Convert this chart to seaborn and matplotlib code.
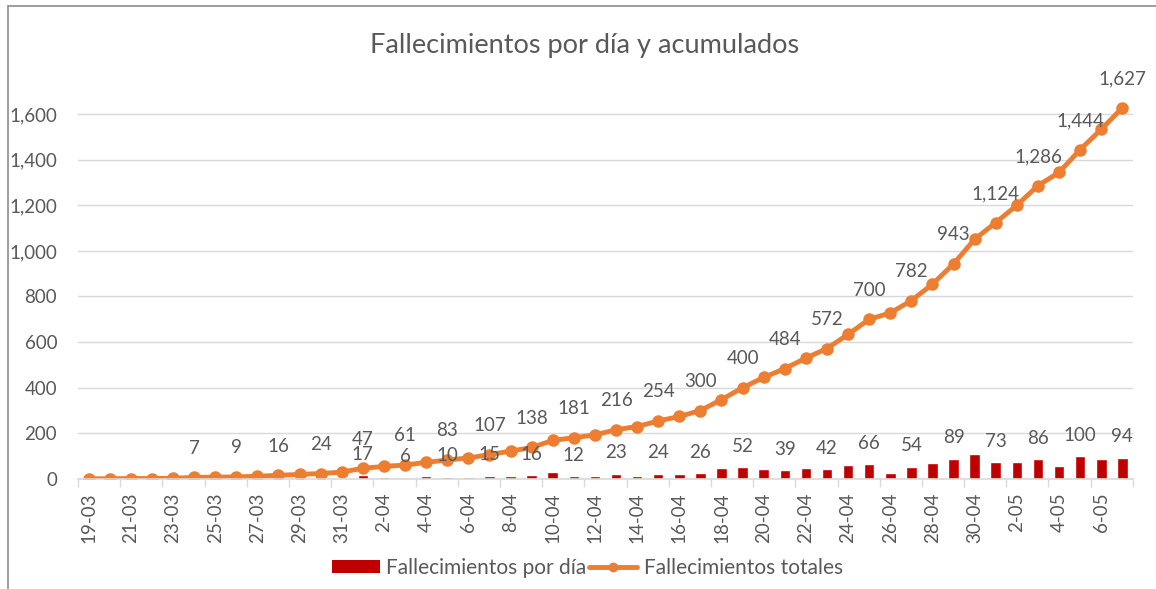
import matplotlib
matplotlib.use('Agg')
import matplotlib.pyplot as plt
from matplotlib.patches import Patch
from matplotlib.lines import Line2D
import seaborn as sns
import numpy as np
import pandas as pd

# data (19-03 .. 7-05)
fechas = [f'{d.day}-{d.month:02d}' for d in pd.date_range('2020-03-19', '2020-05-07')]
por_dia = [1, 0, 1, 0, 1, 4, 1, 1, 3, 4, 4, 4, 6, 17, 8, 6, 12, 10, 9, 15,
           15, 16, 31, 12, 12, 23, 14, 24, 20, 26, 48, 52, 45, 39, 46, 42, 62, 66, 28, 54,
           72, 89, 108, 73, 76, 86, 58, 100, 89, 94]
totales = [1, 1, 2, 2, 3, 7, 8, 9, 12, 16, 20, 24, 30, 47, 55, 61, 73, 83, 92, 107,
           122, 138, 169, 181, 193, 216, 230, 254, 274, 300, 348, 400, 445, 484, 530, 572, 634, 700, 728, 782,
           854, 943, 1051, 1124, 1200, 1286, 1344, 1444, 1533, 1627]
y_ticks = [0, 200, 400, 600, 800, 1000, 1200, 1400, 1600]

ROJO = '#C00000'
NARANJA = '#ED7D31'
GRIS = '#595959'

df = pd.DataFrame({'fecha': fechas, 'dia': por_dia, 'total': totales})
df['pos'] = np.arange(len(df))

sns.set_theme(style='white')
plt.rcParams['font.family'] = ['Lato', 'DejaVu Sans']

fig = plt.figure(figsize=(11.56, 5.89), dpi=100)
ax = fig.add_axes([0.0675, 0.1868, 0.9125, 0.6777])

sns.barplot(data=df, x='pos', y='dia', color=ROJO, width=0.5, saturation=1, ax=ax, native_scale=True)
sns.lineplot(data=df, x='pos', y='total', color=NARANJA, lw=3.5, marker='o', markersize=9,
             markeredgewidth=0, ax=ax)

ax.set_xlim(-0.5, len(df) - 0.5)
ax.set_ylim(0, 1750)
ax.set_yticks(y_ticks)
ax.set_yticklabels([f'{v:,}' for v in y_ticks])
ax.yaxis.grid(True, color='#D9D9D9', lw=1)
ax.set_axisbelow(True)

ax.set_xticks(df['pos'][::2])
ax.set_xticklabels(df['fecha'][::2], rotation=90)
ax.set_xticks(np.arange(-0.5, len(df), 2), minor=True)
ax.tick_params(axis='x', which='major', length=0, pad=10, labelsize=13.5, labelcolor=GRIS)
ax.tick_params(axis='x', which='minor', length=6, width=1, color='#D9D9D9', bottom=True)
ax.tick_params(axis='y', length=0, pad=15, labelsize=13.5, labelcolor=GRIS)
ax.set_xlabel('')
ax.set_ylabel('')

for s in ['top', 'right', 'left']:
    ax.spines[s].set_visible(False)
ax.spines['bottom'].set_color('#D9D9D9')
ax.spines['bottom'].set_linewidth(1.2)

# data labels on every other point
for i in range(5, len(df), 2):
    ax.annotate(f'{totales[i]:,}', (i, totales[i]), xytext=(0, 21), textcoords='offset points',
                ha='center', va='center', fontsize=13.5, color=GRIS)
for i in range(13, len(df), 2):
    ax.annotate(f'{por_dia[i]:,}', (i, por_dia[i]), xytext=(0, 15), textcoords='offset points',
                ha='center', va='center', fontsize=13.5, color=GRIS)

fig.text(0.506, 0.923, 'Fallecimientos por día y acumulados', ha='center', va='center',
         fontsize=19.5, color=GRIS)

handles = [Patch(facecolor=ROJO, edgecolor='none'),
           Line2D([], [], color=NARANJA, lw=3.5, marker='o', markersize=6)]
fig.legend(handles, ['Fallecimientos por día', 'Fallecimientos totales'], loc='center',
           bbox_to_anchor=(0.508, 0.036), ncol=2, frameon=False, fontsize=15,
           handlelength=2.3, handleheight=0.6, handletextpad=0.3, columnspacing=0.15,
           labelcolor=GRIS)

# chart border (left and top visible in the original)
fig.add_artist(Line2D([0.0065, 0.0065], [0, 0.99], transform=fig.transFigure, color='#8C8C8C', lw=1.2))
fig.add_artist(Line2D([0.0065, 1], [0.99, 0.99], transform=fig.transFigure, color='#8C8C8C', lw=1.2))

fig.savefig('out.png', dpi=100)
